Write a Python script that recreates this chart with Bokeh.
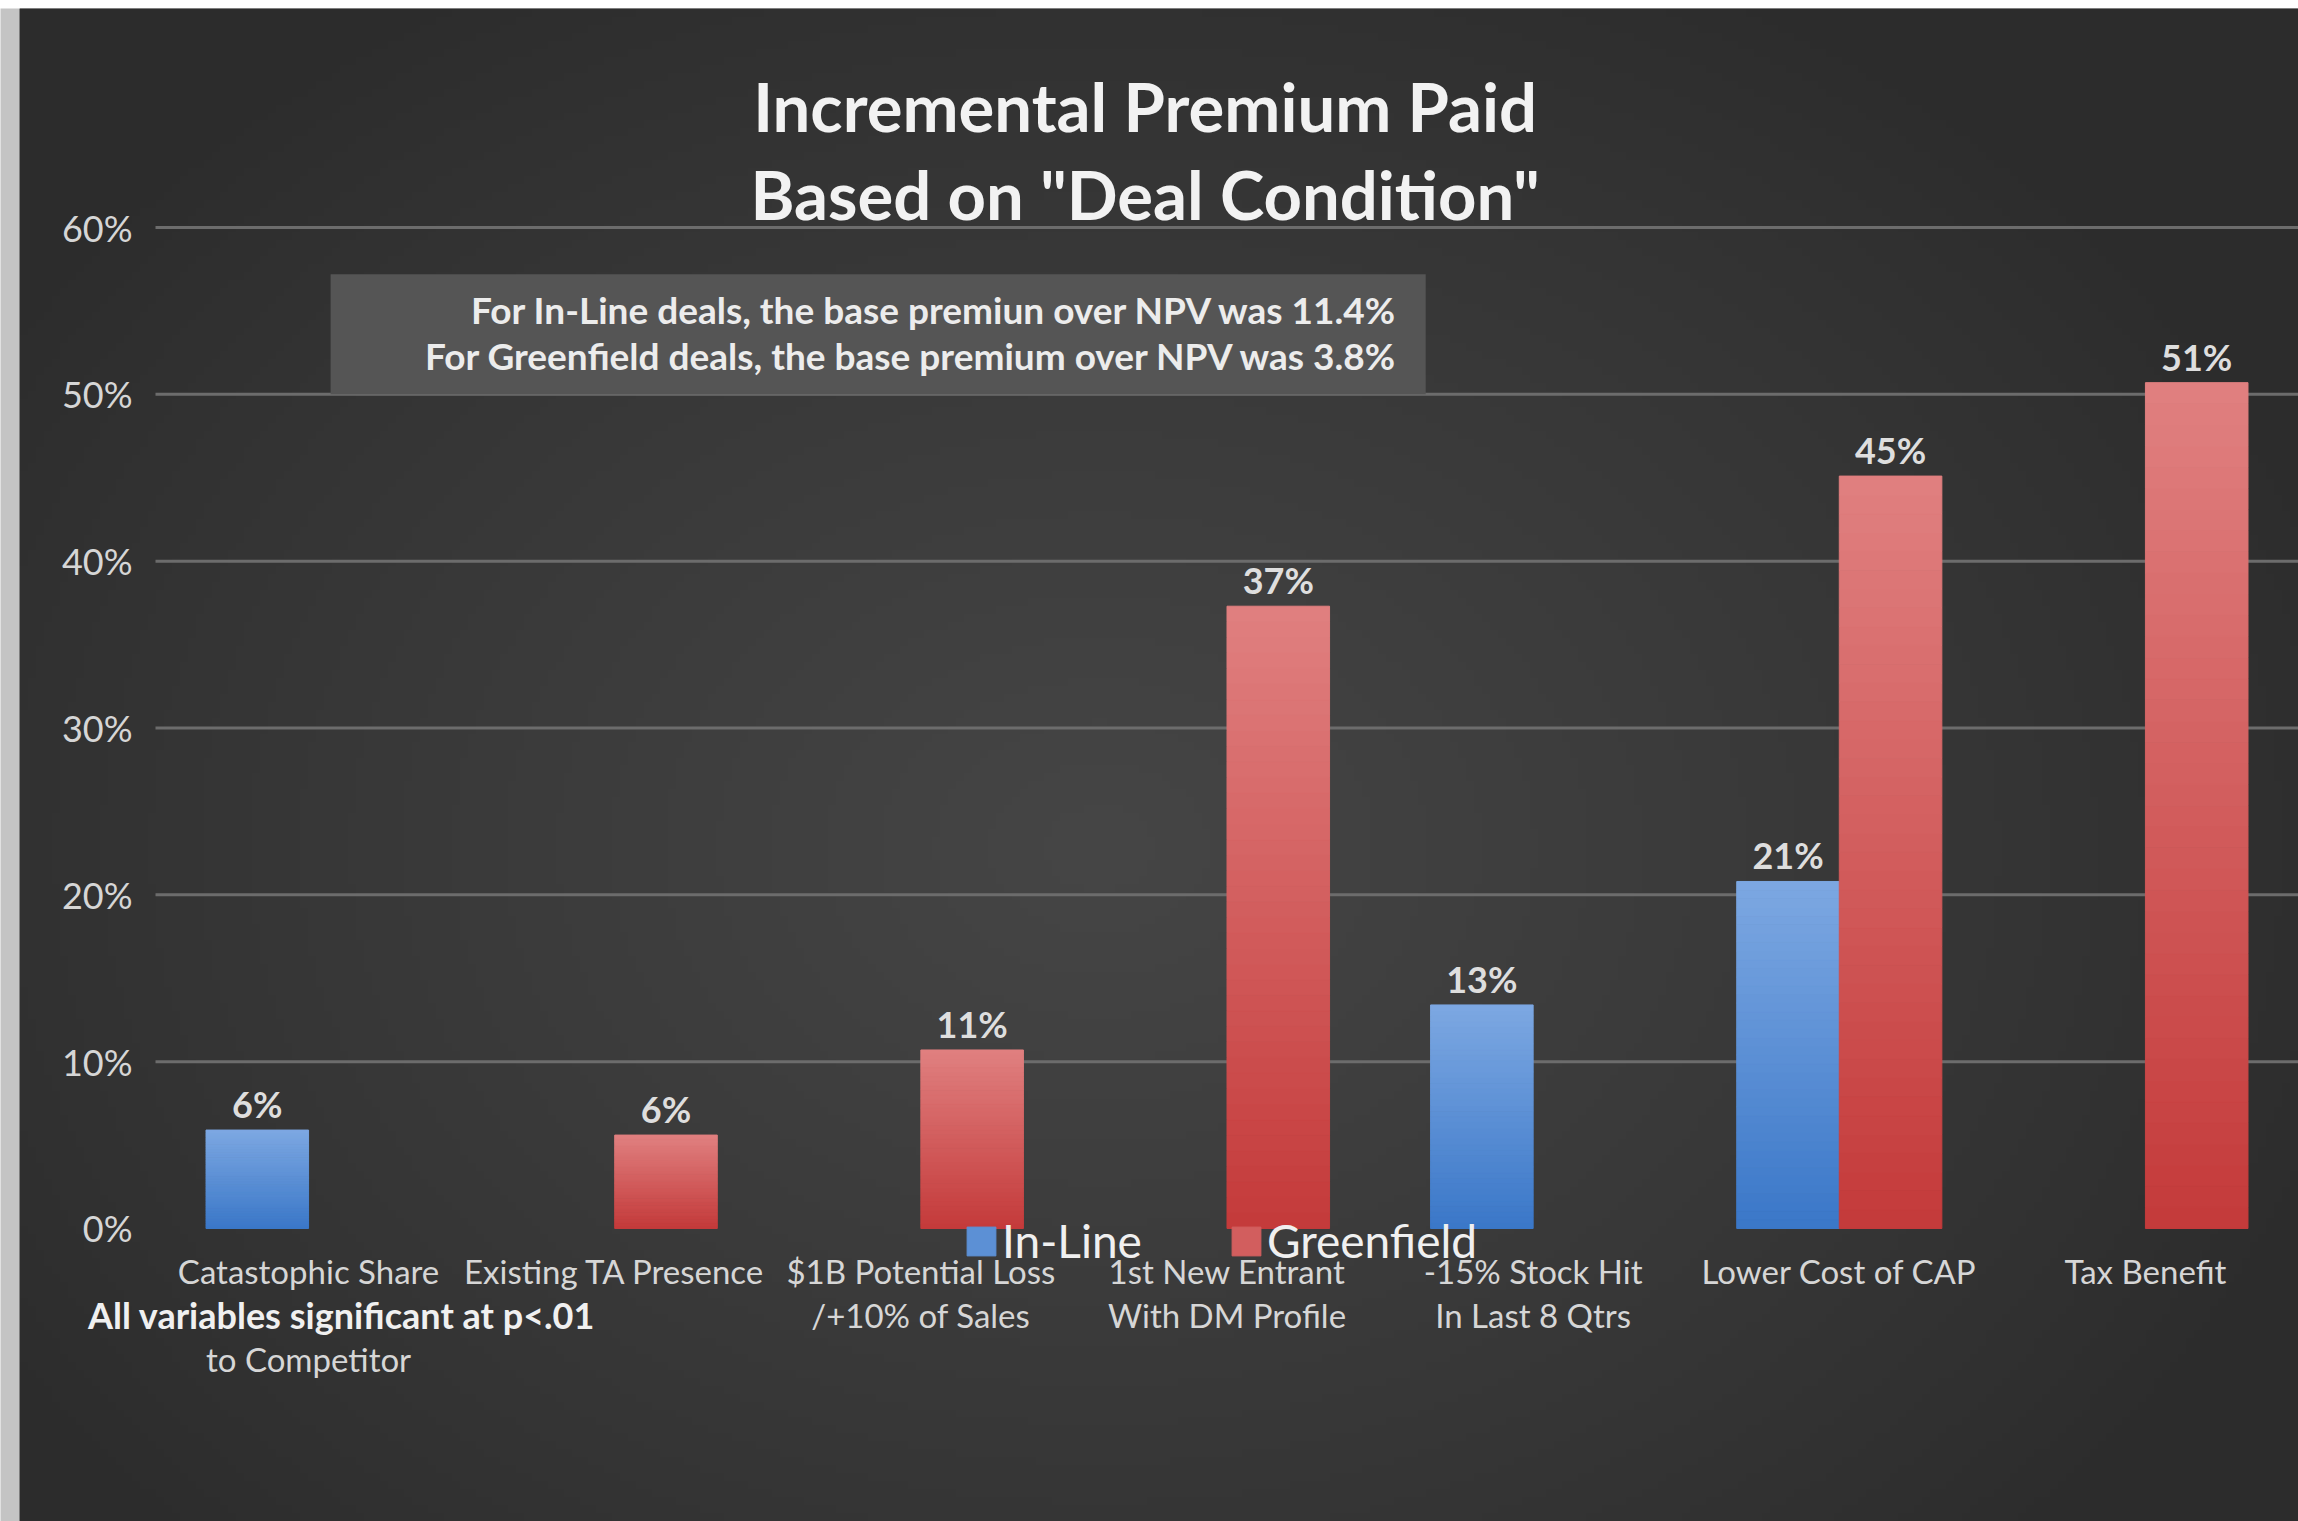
import numpy as np
from bokeh.plotting import figure
from bokeh.models import (ColumnDataSource, FixedTicker, NumeralTickFormatter,
                          Legend, LegendItem, Label, Range1d)
from bokeh.layouts import row, column
from bokeh.core.properties import value
from bokeh.embed import file_html
from bokeh.resources import INLINE

# ---------------- data ----------------
categories = [
    "Catastophic Share\n \nto Competitor",
    "Existing TA Presence",
    "$1B Potential Loss\n/+10% of Sales",
    "1st New Entrant\nWith DM Profile",
    "-15% Stock Hit\nIn Last 8 Qtrs",
    "Lower Cost of CAP",
    "Tax Benefit",
]
inline_vals = [0.059, None, None, None, 0.134, 0.208, None]
greenfield_vals = [None, 0.056, 0.107, 0.373, None, 0.451, 0.507]
series_names = ["In-Line", "Greenfield"]
y_ticks = [0.0, 0.1, 0.2, 0.3, 0.4, 0.5, 0.6]
grid_ticks = [0.1, 0.2, 0.3, 0.4, 0.5, 0.6]
title_lines = ["Incremental Premium Paid", 'Based on "Deal Condition"']
note_lines = ["For In-Line deals, the base premiun over NPV was 11.4%",
              "For Greenfield deals, the base premium over NPV was 3.8%"]
footnote = "All variables significant at p<.01"

# ---------------- styling ----------------
FONT = "Lato"
BAR_W = 0.335
BLUE_TOP, BLUE_BOT = (0x7d, 0xa8, 0xe2), (0x3a, 0x77, 0xc8)
RED_TOP, RED_BOT = (0xe0, 0x80, 0x80), (0xc4, 0x3a, 0x3a)
N_SLICES = 40
W, H = 2279, 1513
X0, X1 = -0.44424, 7.0          # x extent of the frame (category units)
Y0, Y1 = -0.17563, 0.73127      # y extent of the frame

positions = [i + 0.5 for i in range(len(categories))]


def lerp(c1, c2, t):
    return "#%02x%02x%02x" % tuple(int(round(a + (b - a) * t)) for a, b in zip(c1, c2))


def gradient_source(vals, offset, top_c, bot_c):
    d = dict(x=[], bottom=[], top=[], color=[])
    for xp, v in zip(positions, vals):
        if v is None:
            continue
        for k in range(N_SLICES):
            d["x"].append(xp + offset)
            d["bottom"].append(v * k / N_SLICES)
            d["top"].append(v * (k + 1) / N_SLICES)
            d["color"].append(lerp(bot_c, top_c, (k + 0.5) / N_SLICES))
    return ColumnDataSource(d)


p = figure(width=W, height=H, x_range=Range1d(X0, X1), y_range=Range1d(Y0, Y1),
           toolbar_location=None, output_backend="svg", min_border=0)
p.background_fill_color = "#363636"
p.border_fill_color = "#363636"
p.outline_line_color = None
p.grid.visible = False

# background radial shading
ny, nx = 190, 285
fx = (np.arange(nx) + 0.5) / nx * W
fy = H - (np.arange(ny) + 0.5) / ny * H
GX, GY = np.meshgrid(fx, fy)
dist = np.sqrt(((GX - 1080) / 1300) ** 2 + ((GY - 840) / 1000) ** 2)
lum = (44 + 26 * np.clip(1 - dist, 0, 1) ** 0.9).astype(np.uint8)
img = np.empty((ny, nx), dtype=np.uint32)
view = img.view(dtype=np.uint8).reshape((ny, nx, 4))
view[..., 0] = lum
view[..., 1] = lum
view[..., 2] = lum
view[..., 3] = 255
p.image_rgba(image=[img], x=X0, y=Y0, dw=X1 - X0, dh=Y1 - Y0, level="image")

# horizontal gridlines over the category area only
p.segment(x0=[0] * len(grid_ticks), x1=[len(categories)] * len(grid_ticks),
          y0=grid_ticks, y1=grid_ticks, line_color="#6c6c6c", line_width=3, level="underlay")

# annotation box
p.quad(left=[0.572], right=[4.149], bottom=[0.5], top=[0.572],
       fill_color="#555555", line_color=None, level="underlay")

# bars
src_in = gradient_source(inline_vals, -BAR_W / 2, BLUE_TOP, BLUE_BOT)
src_gr = gradient_source(greenfield_vals, BAR_W / 2, RED_TOP, RED_BOT)
r_in = p.vbar(x="x", width=BAR_W, top="top", bottom="bottom",
              source=src_in, fill_color="color", line_color="color", line_width=1)
r_gr = p.vbar(x="x", width=BAR_W, top="top", bottom="bottom",
              source=src_gr, fill_color="color", line_color="color", line_width=1)

# data labels
for vals, off in ((inline_vals, -BAR_W / 2), (greenfield_vals, BAR_W / 2)):
    xs = [xp + off for xp, v in zip(positions, vals) if v is not None]
    vv = [v for v in vals if v is not None]
    lab = ColumnDataSource(dict(x=xs, y=vv, t=["%d%%" % round(v * 100) for v in vv]))
    p.text(x="x", y="y", text="t", source=lab,
           text_align="center", text_baseline="bottom", y_offset=-4,
           text_font=value(FONT), text_font_style="bold", text_font_size="36px", text_color="#dedede")

# note text in the box
p.text(x=[4.061, 4.061], y=[0.551, 0.523], text=note_lines, text_align="right",
       text_baseline="middle", text_font=value(FONT), text_font_style="bold",
       text_font_size="37px", text_color="#ececec")

# footnote
p.add_layout(Label(x=0.608, y=-0.052, text=footnote, text_align="center", text_baseline="middle",
                   text_font=FONT, text_font_style="bold", text_font_size="36px",
                   text_color="#f0f0f0"))

# title
for txt, ty in zip(title_lines, (0.6729, 0.6202)):
    p.add_layout(Label(x=3.2326, y=ty, text=txt, text_align="center", text_baseline="middle",
                       text_font=FONT, text_font_style="bold", text_font_size="67px",
                       text_color="#f2f2f2"))

# axes
p.xaxis.fixed_location = 0
p.yaxis.fixed_location = 0
p.xaxis.ticker = FixedTicker(ticks=positions)
p.xaxis.major_label_overrides = {xp: c for xp, c in zip(positions, categories)}
p.yaxis.ticker = FixedTicker(ticks=y_ticks)
p.yaxis.formatter = NumeralTickFormatter(format="0%")
for ax in (p.xaxis[0], p.yaxis[0]):
    ax.axis_line_color = None
    ax.major_tick_line_color = None
    ax.minor_tick_line_color = None
    ax.major_tick_out = 0
    ax.major_tick_in = 0
    ax.major_label_text_font = FONT
    ax.major_label_text_color = "#d6d6d6"
p.yaxis.major_label_text_font_size = "36px"
p.yaxis.major_label_standoff = 23
p.xaxis.major_label_text_font_size = "33px"
p.xaxis.major_label_standoff = 23
p.xaxis.major_label_text_line_height = 1.09

# legend
legend = Legend(items=[LegendItem(label=series_names[0], renderers=[r_in], index=N_SLICES // 2),
                       LegendItem(label=series_names[1], renderers=[r_gr], index=N_SLICES + N_SLICES // 2)],
                orientation="horizontal", location=(944, 253),
                background_fill_alpha=0, border_line_alpha=0,
                label_text_font=FONT, label_text_font_size="46px", label_text_color="#f0f0f0",
                glyph_width=36, glyph_height=36, spacing=86, padding=0, margin=0, label_standoff=3)
p.add_layout(legend)


# scanned-page edges: white strip on top, grey strip on the left
def blank(w, h, color):
    f = figure(width=w, height=h, toolbar_location=None, output_backend="svg",
               min_border=0, x_range=Range1d(0, 1), y_range=Range1d(0, 1))
    f.background_fill_color = color
    f.border_fill_color = color
    f.outline_line_color = None
    f.axis.visible = False
    f.grid.visible = False
    return f


top_strip = blank(W + 19, 8, "#ffffff")
left_strip = blank(19, H, "#c4c4c4")

layout = column(top_strip, row(left_strip, p))
open("out.html", "w").write(file_html(layout, INLINE))
